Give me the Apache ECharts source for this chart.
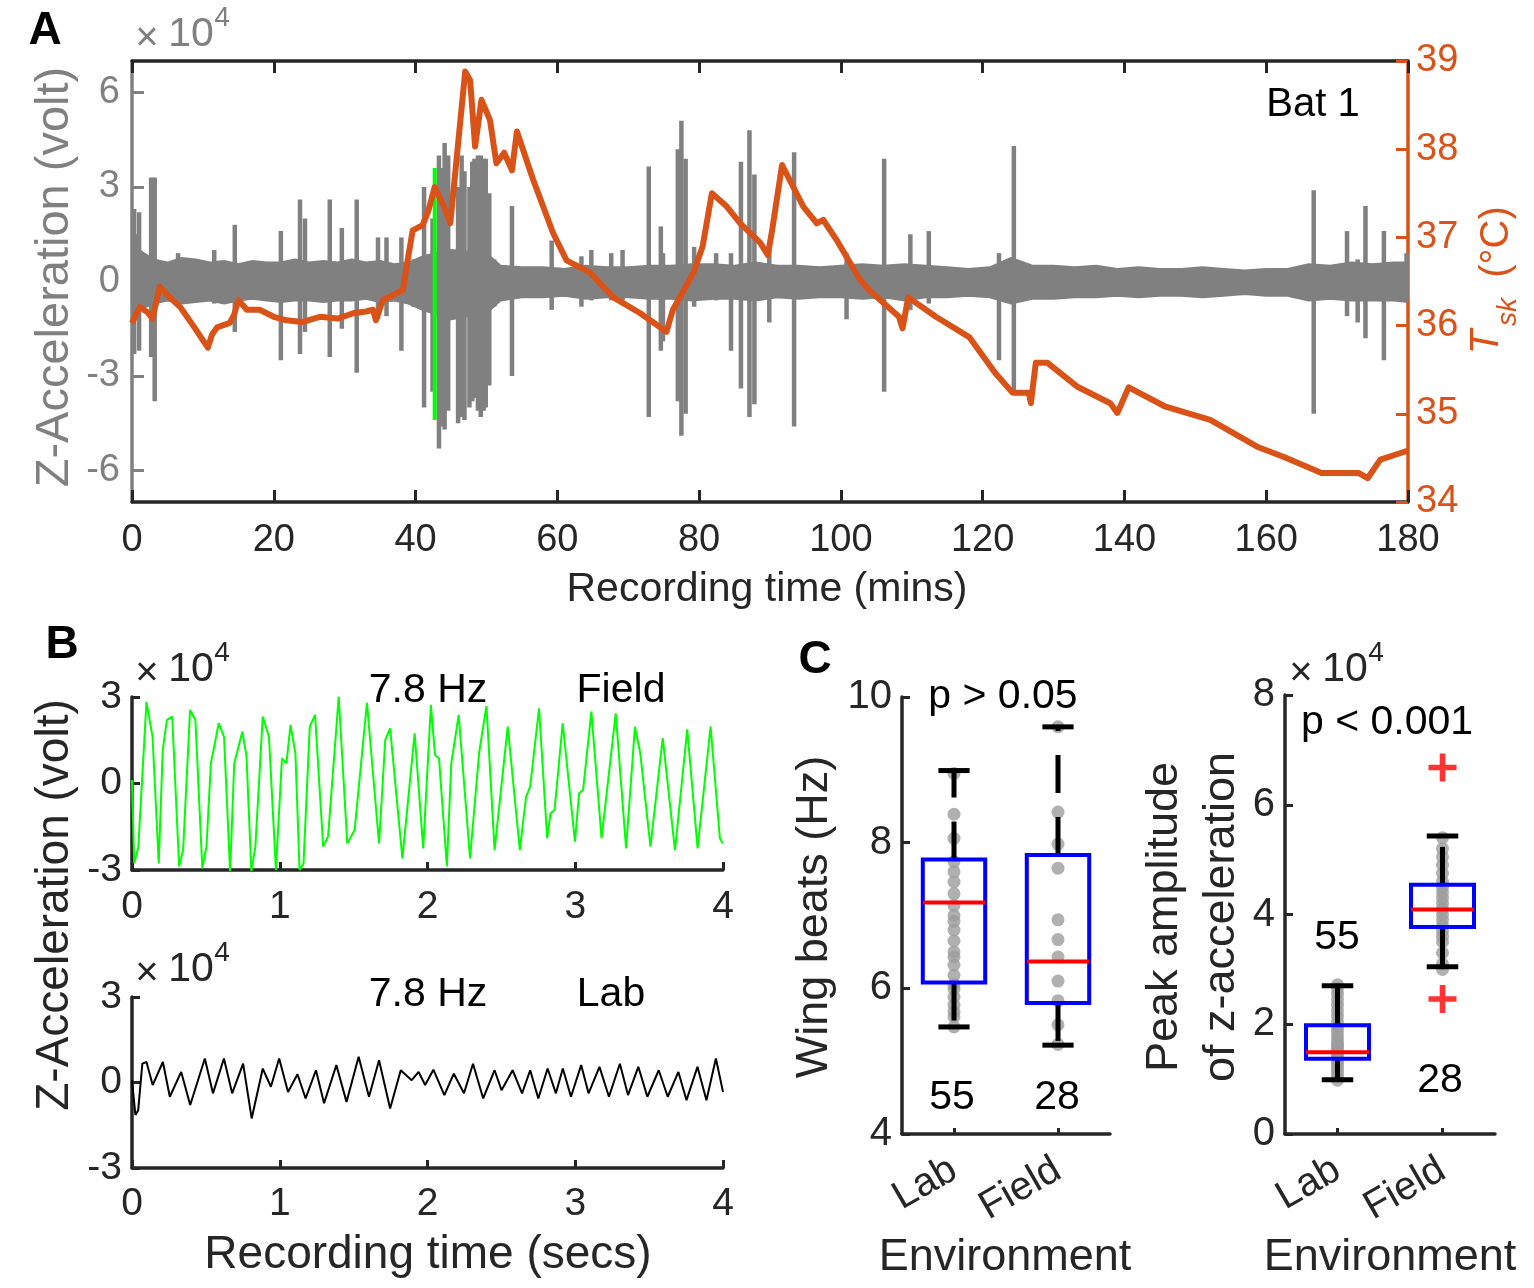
<!DOCTYPE html>
<html>
<head>
<meta charset="utf-8">
<title>Bat 1 z-acceleration and skin temperature</title>
<script src="https://cdn.jsdelivr.net/npm/echarts@6/dist/echarts.min.js"></script>
<style>
  html, body { margin: 0; padding: 0; background: #fff; }
  #chart { width: 1534px; height: 1288px; }
</style>
</head>
<body>
<div id="chart"></div>
<script>
// ---------- panel A: whole recording (mins) ----------
const minsTicks = [0, 20, 40, 60, 80, 100, 120, 140, 160, 180]
const accTicksA = [-6, -3, 0, 3, 6]
const tempTicks = [34, 35, 36, 37, 38, 39]

// skin temperature (deg C)
const tempTime = [0, 1.1, 2.2, 2.9, 3.9, 5.2, 6.8, 8.8, 10.7, 11.3, 12.0, 13.8, 14.4, 15.0, 16.2, 18.0, 20.0, 21.8, 24.0, 26.5,
  29.0, 31.2, 33.0, 34.0, 34.4, 35.4, 38.2, 38.9, 39.6, 41.0, 41.8, 42.7, 44.0, 44.9, 47.0, 47.7, 48.4, 49.3, 50.5, 51.4,
  52.5, 53.6, 54.3, 56.6, 59.4, 61.3, 64.6, 67.9, 71.7, 75.4, 76.3, 79.2, 80.5, 81.8, 83.9, 85.8, 88.6, 89.7, 90.3, 91.7,
  94.7, 96.6, 97.5, 99.4, 102.7, 104.0, 108.2, 108.7, 109.5, 113.4, 118.1, 121.8, 124.2, 126.5, 126.8, 127.5, 129.1, 133.3, 138.0, 139.0,
  140.6, 145.8, 152.1, 158.9, 162.5, 167.8, 173.0, 174.3, 176.1, 179.5, 180.0]
const tempValue = [36.03, 36.21, 36.15, 36.08, 36.44, 36.33, 36.21, 35.98, 35.75, 35.9, 35.98, 36.03, 36.12, 36.29, 36.18, 36.18, 36.1, 36.06, 36.04, 36.1,
  36.08, 36.14, 36.16, 36.18, 36.06, 36.29, 36.4, 36.75, 37.08, 37.14, 37.3, 37.57, 37.35, 37.16, 38.88, 38.78, 38.03, 38.56, 38.33, 37.84,
  37.96, 37.76, 38.2, 37.65, 37.05, 36.74, 36.6, 36.32, 36.14, 35.93, 36.18, 36.6, 36.9, 37.5, 37.35, 37.16, 36.94, 36.8, 37.08, 37.82,
  37.35, 37.16, 37.2, 36.97, 36.52, 36.4, 36.1, 35.97, 36.32, 36.1, 35.87, 35.46, 35.24, 35.24, 35.12, 35.58, 35.58, 35.31, 35.12, 35.01,
  35.3, 35.08, 34.93, 34.62, 34.51, 34.33, 34.33, 34.27, 34.48, 34.57, 34.58]

// envelope of the resting acceleration noise (x1e4)
const noiseTime = [0, 1, 3, 5, 7, 9, 11, 13, 15, 17, 19, 21, 23, 25, 27, 29, 31, 33, 35, 37, 39, 41, 45, 50, 52, 55, 58, 61, 64, 67,
  70, 73, 76, 79, 82, 85, 88, 91, 94, 97, 100, 103, 106, 109, 112, 115, 118, 121, 124, 127, 130, 133, 136, 139, 142, 145, 148, 151, 154, 157,
  160, 163, 166, 169, 172, 175, 178, 180]
const noiseUpper = [0.9, 1.0, 0.7, 0.6, 0.75, 0.7, 0.6, 0.65, 0.55, 0.65, 0.6, 0.6, 0.7, 0.6, 0.65, 0.6, 0.7, 0.6, 0.65, 0.55, 0.6, 0.8, 1.0, 0.9, 0.5, 0.45, 0.45, 0.4, 0.5, 0.45,
  0.45, 0.5, 0.5, 0.55, 0.55, 0.5, 0.6, 0.5, 0.5, 0.45, 0.5, 0.55, 0.5, 0.55, 0.5, 0.45, 0.4, 0.45, 0.75, 0.5, 0.5, 0.45, 0.5, 0.4, 0.45, 0.4, 0.4, 0.45, 0.4, 0.35,
  0.4, 0.4, 0.55, 0.5, 0.6, 0.55, 0.6, 0.6]
const noiseLower = [-1.0, -0.9, -0.7, -0.6, -0.7, -0.65, -0.6, -0.7, -0.6, -0.55, -0.6, -0.65, -0.6, -0.6, -0.65, -0.6, -0.6, -0.55, -0.65, -0.6, -0.7, -0.9, -1.2, -1.0, -0.6, -0.5, -0.5, -0.45, -0.55, -0.5,
  -0.5, -0.55, -0.55, -0.6, -0.55, -0.55, -0.6, -0.5, -0.55, -0.5, -0.5, -0.55, -0.5, -0.6, -0.5, -0.5, -0.45, -0.5, -0.7, -0.55, -0.55, -0.5, -0.5, -0.45, -0.5, -0.45, -0.45, -0.5, -0.45, -0.4,
  -0.45, -0.45, -0.6, -0.55, -0.6, -0.6, -0.6, -0.65]

// movement bursts: time, positive peak, negative peak (x1e4)
const spikeTime = [0.3, 0.7, 1.0, 2.7, 3.2, 6.5, 11.6, 14.5, 21.0, 23.7, 24.4, 27.9, 29.6, 31.7, 34.7, 35.9, 38.0, 39.7, 41.2, 42.4,
  43.3, 43.7, 44.1, 44.6, 46.0, 46.5, 46.9, 47.6, 48.0, 48.3, 48.8, 49.2, 49.6, 49.9, 50.4, 51.1, 53.6, 59.2, 63.4, 64.8,
  67.6, 69.2, 72.9, 74.6, 74.9, 77.0, 77.5, 78.1, 79.3, 82.4, 84.5, 85.9, 87.1, 87.8, 89.9, 93.4, 100.8, 106.1, 109.8, 112.4,
  122.3, 124.4, 166.7, 171.4, 172.9, 174.0, 176.6, 179.8]
const spikeTop = [2.3, 1.5, 2.2, 3.3, 3.3, 0.9, 1.0, 1.8, 1.6, 2.6, 2.0, 2.6, 1.7, 2.6, 1.4, 1.4, 1.4, 0.7, 3.0, 2.0,
  4.0, 3.6, 4.4, 4.0, 3.0, 4.0, 3.5, 3.0, 3.8, 3.9, 4.0, 4.0, 3.9, 3.9, 2.8, 0.7, 2.4, 1.3, 0.8, 1.0,
  0.9, 1.0, 3.65, 1.75, 0.9, 4.2, 5.1, 3.9, 1.1, 0.9, 0.9, 3.8, 4.8, 3.4, 1.0, 4.1, 0.9, 3.9, 1.5, 1.6,
  0.9, 4.3, 2.9, 1.6, 0.7, 2.4, 1.6, 0.9]
const spikeBottom = [-2.3, -1.2, -2.2, -2.4, -3.8, -0.7, -0.7, -1.6, -2.5, -2.3, -1.6, -2.4, -1.5, -2.9, -1.2, -1.1, -2.2, -0.8, -4.0, -3.5,
  -5.3, -4.6, -4.7, -4.1, -4.5, -4.3, -4.4, -4.0, -3.8, -3.7, -4.1, -4.3, -4.1, -4.0, -3.3, -0.8, -3.0, -0.9, -0.8, -0.6,
  -0.6, -0.6, -4.3, -2.2, -1.9, -3.8, -4.9, -4.2, -0.8, -0.6, -2.2, -3.4, -4.3, -3.9, -1.3, -4.6, -1.2, -3.5, -0.9, -0.7,
  -2.5, -3.5, -4.2, -1.1, -1.3, -1.8, -2.5, -0.6]

// the 4 s flight segment shown in panel B
const flightMarkTime = 42.7
const flightMarkTop = 3.6
const flightMarkBottom = -4.4

// ---------- panel B: 4 s excerpts (secs) ----------
const secsTicks = [0, 1, 2, 3, 4]
const accTicksB = [-3, 0, 3]
const fieldTime = [0, 0.015, 0.043, 0.098, 0.139, 0.181, 0.208, 0.236, 0.272, 0.319, 0.346, 0.393, 0.429, 0.476, 0.504, 0.534, 0.587, 0.623, 0.664, 0.692,
  0.747, 0.775, 0.808, 0.835, 0.885, 0.927, 0.974, 1.015, 1.045, 1.073, 1.106, 1.134, 1.161, 1.203, 1.239, 1.294, 1.327, 1.399, 1.457, 1.507,
  1.59, 1.672, 1.714, 1.747, 1.83, 1.913, 1.971, 2.023, 2.051, 2.078, 2.131, 2.161, 2.211, 2.288, 2.349, 2.399, 2.454, 2.543, 2.625, 2.667,
  2.695, 2.755, 2.81, 2.833, 2.86, 2.915, 2.998, 3.026, 3.053, 3.109, 3.178, 3.274, 3.344, 3.404, 3.44, 3.509, 3.592, 3.675, 3.758, 3.828,
  3.916, 3.979, 3.998]
const fieldValue = [0.12, -2.77, -2.19, 2.83, 1.62, -2.77, 1.16, 2.2, 2.32, -2.88, -2.31, 2.55, 2.2, -2.94, -2.19, 0.7, 2.09, 1.62, -3.06, 0.7,
  1.8, 0.93, -3.06, -2.19, 2.32, 1.62, -3.0, 0.87, 0.7, 2.03, 1.05, -3.0, -2.77, 1.97, 2.38, -2.19, -1.84, 3.01, -2.08, -1.61,
  2.8, -2.08, 1.51, 1.91, -2.6, 1.74, -2.25, 2.72, 0.99, 0.87, -2.88, 0.7, 2.38, -2.6, 1.05, 2.69, -2.31, 1.97, -2.31, -0.46,
  -0.11, 2.61, -1.9, -1.03, -0.92, 2.09, -2.02, -0.34, -0.23, 2.49, -1.9, 2.43, -2.25, 1.97, 1.05, -2.19, 1.57, -2.31, 1.88, -2.25,
  1.97, -1.9, -2.08]
const labTime = [0, 0.023, 0.042, 0.07, 0.098, 0.14, 0.209, 0.256, 0.333, 0.394, 0.493, 0.548, 0.622, 0.678, 0.752, 0.81, 0.885, 0.94, 0.996, 1.056,
  1.12, 1.175, 1.245, 1.3, 1.383, 1.452, 1.534, 1.604, 1.672, 1.747, 1.819, 1.893, 1.94, 1.984, 2.04, 2.114, 2.178, 2.247, 2.308, 2.377,
  2.454, 2.501, 2.576, 2.64, 2.695, 2.75, 2.813, 2.869, 2.916, 2.971, 3.04, 3.09, 3.164, 3.228, 3.302, 3.357, 3.427, 3.488, 3.565, 3.626,
  3.698, 3.753, 3.827, 3.888, 3.952, 4.0]
const labValue = [0.08, -1.14, -0.97, 0.66, 0.72, -0.09, 0.72, -0.5, 0.37, -0.79, 0.84, -0.38, 0.84, -0.38, 0.66, -1.26, 0.49, -0.15, 0.84, -0.33,
  0.29, -0.56, 0.43, -0.73, 0.61, -0.68, 0.9, -0.5, 0.78, -0.91, 0.43, 0.08, 0.37, -0.09, 0.45, -0.44, 0.31, -0.38, 0.66, -0.56,
  0.43, -0.27, 0.43, -0.38, 0.43, -0.56, 0.49, -0.38, 0.49, -0.5, 0.61, -0.38, 0.55, -0.5, 0.66, -0.44, 0.55, -0.5, 0.43, -0.5,
  0.37, -0.62, 0.55, -0.62, 0.84, -0.33]

// ---------- panel C: box plots ----------
const envCategories = ['Lab', 'Field']
const wingTicks = [4, 6, 8, 10]
const ampTicks = [0, 2, 4, 6, 8]
// lower whisker, q1, median, q3, upper whisker
const wingBox = [[5.47, 6.08, 7.18, 7.77, 8.99], [5.22, 5.80, 6.37, 7.83, 9.59]]
const wingLabDots = [8.95, 8.39, 8.06, 7.74, 7.6, 7.46, 7.3, 7.14, 7.0, 6.92, 6.8, 6.65, 6.5, 6.43, 6.32, 6.18, 6.05, 5.99, 5.88, 5.77, 5.68, 5.61, 5.47]
const wingFieldDots = [9.59, 8.42, 7.98, 7.65, 6.94, 6.67, 6.43, 6.1, 5.83, 5.5, 5.23]
const ampBox = [[0.99, 1.37, 1.49, 1.98, 2.70], [3.05, 3.77, 4.09, 4.54, 5.43]]
const ampLabDots = [0.98, 1.05, 1.12, 1.18, 1.25, 1.3, 1.35, 1.4, 1.45, 1.5, 1.55, 1.6, 1.65, 1.72, 1.8, 1.88, 1.95, 2.05, 2.15, 2.25, 2.35, 2.45, 2.55, 2.65, 2.72]
const ampFieldDots = [3.0, 3.1, 3.3, 3.5, 3.6, 3.7, 3.8, 3.9, 4.0, 4.1, 4.2, 4.3, 4.4, 4.5, 4.6, 4.75, 4.9, 5.05, 5.2, 5.4]
const ampOutliers = [6.68, 2.46]
const sampleCounts = ['55', '28']

// ---------- styling ----------
const FONT = '"Liberation Sans", Arial, Helvetica, sans-serif'
const INK = '#262626'
const GREY = '#808080'
const ORANGE = '#D95319'

const zip = (xs, ys) => xs.map((x, i) => [x, ys[i]])

function valueAxis(grid, min, max, ticks, opts) {
  const o = opts || {}
  const color = o.color || INK
  return {
    gridIndex: grid, type: 'value', min: min, max: max,
    position: o.position,
    axisLine: { show: true, onZero: false, lineStyle: { color: color, width: 3.5 } },
    axisTick: { show: true, inside: true, length: o.tickLen || 12, customValues: ticks, lineStyle: { color: color, width: 3 } },
    axisLabel: { show: o.labels !== false, customValues: ticks, color: color, fontFamily: FONT, fontSize: o.fontSize || 38, margin: o.margin || 10 },
    splitLine: { show: false }
  }
}

function catAxis(grid) {
  return {
    gridIndex: grid, type: 'category', data: envCategories, boundaryGap: true,
    axisLine: { show: true, lineStyle: { color: INK, width: 3.5 } },
    axisTick: { show: true, inside: true, alignWithLabel: true, length: 6, lineStyle: { color: INK, width: 3 } },
    axisLabel: { interval: 0, hideOverlap: false, rotate: 30, color: INK, fontFamily: FONT, fontSize: 40, margin: 33 },
    splitLine: { show: false }
  }
}

function renderSpike(params, api) {
  const a = api.coord([api.value(0), api.value(1)])
  const b = api.coord([api.value(0), api.value(2)])
  return {
    type: 'line',
    shape: { x1: a[0], y1: a[1], x2: b[0], y2: b[1] },
    style: { stroke: GREY, lineWidth: 4.5 }
  }
}

function renderBox(params, api) {
  const i = api.value(0)
  const lo = api.coord([i, api.value(1)])
  const q1 = api.coord([i, api.value(2)])
  const md = api.coord([i, api.value(3)])
  const q3 = api.coord([i, api.value(4)])
  const hi = api.coord([i, api.value(5)])
  const band = api.size([1, 0])[0]
  const half = band * 0.3
  const cap = band * 0.15
  const cx = md[0]
  const whisker = { stroke: '#000', lineWidth: 5, lineDash: [38, 24] }
  const solid = { stroke: '#000', lineWidth: 5 }
  return {
    type: 'group',
    children: [
      { type: 'line', shape: { x1: cx, y1: q3[1], x2: cx, y2: hi[1] }, style: whisker },
      { type: 'line', shape: { x1: cx, y1: q1[1], x2: cx, y2: lo[1] }, style: whisker },
      { type: 'line', shape: { x1: cx - cap, y1: hi[1], x2: cx + cap, y2: hi[1] }, style: solid },
      { type: 'line', shape: { x1: cx - cap, y1: lo[1], x2: cx + cap, y2: lo[1] }, style: solid },
      { type: 'rect', shape: { x: cx - half, y: q3[1], width: half * 2, height: q1[1] - q3[1] }, style: { fill: 'none', stroke: '#0000FF', lineWidth: 4 } },
      { type: 'line', shape: { x1: cx - half, y1: md[1], x2: cx + half, y2: md[1] }, style: { stroke: '#FF0000', lineWidth: 4 } }
    ]
  }
}

function txt(text, x, y, size, extra) {
  const e = extra || {}
  return {
    type: 'text', x: x, y: y, rotation: e.rotation || 0, z: 100,
    style: {
      text: text, fill: e.color || '#000', fontFamily: FONT, fontSize: size,
      fontWeight: e.bold ? 'bold' : 'normal', fontStyle: e.italic ? 'italic' : 'normal',
      textAlign: 'center', textVerticalAlign: 'middle'
    }
  }
}

function timesTen(x, y, color) {
  return [
    txt('\u00d7', x, y + 4, 40, { color: color }),
    txt('10', x + 44, y, 41, { color: color }),
    txt('4', x + 75, y - 17, 28, { color: color })
  ]
}

const boxData = rows => rows.map((r, i) => [i].concat(r))
const dotData = (idx, vals) => vals.map(v => [idx, v])

const chart = echarts.init(document.getElementById('chart'))

chart.setOption({
  backgroundColor: '#fff',
  animation: false,
  grid: [
    { left: 132, top: 61, width: 1276, height: 441 },
    { left: 132, top: 697, width: 591, height: 173 },
    { left: 132, top: 997, width: 591, height: 171 },
    { left: 902, top: 697, width: 208, height: 437 },
    { left: 1285, top: 695, width: 210, height: 439 }
  ],
  xAxis: [
    Object.assign(valueAxis(0, 0, 180, minsTicks, { margin: 20 }), { position: 'bottom' }),
    Object.assign(valueAxis(0, 0, 180, minsTicks, { labels: false }), { position: 'top' }),
    valueAxis(1, 0, 4, secsTicks, { tickLen: 8, fontSize: 39, margin: 18 }),
    valueAxis(2, 0, 4, secsTicks, { tickLen: 8, fontSize: 39, margin: 17 }),
    catAxis(3),
    catAxis(4)
  ],
  yAxis: [
    valueAxis(0, -7, 7, accTicksA, { color: GREY, margin: 12 }),
    valueAxis(0, 34, 39, tempTicks, { color: ORANGE, position: 'right', margin: 8 }),
    valueAxis(1, -3, 3, accTicksB, { tickLen: 8, fontSize: 39 }),
    valueAxis(2, -3, 3, accTicksB, { tickLen: 8, fontSize: 39 }),
    valueAxis(3, 4, 10, wingTicks, { tickLen: 8, fontSize: 40 }),
    valueAxis(4, 0, 8, ampTicks, { tickLen: 8, fontSize: 40 })
  ],
  series: [
    // panel A
    { type: 'line', xAxisIndex: 0, yAxisIndex: 0, data: zip(noiseTime, noiseUpper), symbol: 'none', silent: true, z: 2,
      lineStyle: { color: GREY, width: 2 }, areaStyle: { color: GREY, opacity: 1, origin: -0.2 } },
    { type: 'line', xAxisIndex: 0, yAxisIndex: 0, data: zip(noiseTime, noiseLower), symbol: 'none', silent: true, z: 2,
      lineStyle: { color: GREY, width: 2 }, areaStyle: { color: GREY, opacity: 1, origin: 0.2 } },
    { type: 'custom', xAxisIndex: 0, yAxisIndex: 0, renderItem: renderSpike, silent: true, z: 3,
      encode: { x: 0, y: [1, 2] },
      data: spikeTime.map((t, i) => [t, spikeTop[i], spikeBottom[i]]) },
    { type: 'line', xAxisIndex: 0, yAxisIndex: 0, symbol: 'none', silent: true, z: 4,
      data: [[flightMarkTime, flightMarkTop], [flightMarkTime, flightMarkBottom]],
      lineStyle: { color: '#00FF00', width: 4 } },
    { type: 'line', xAxisIndex: 0, yAxisIndex: 1, data: zip(tempTime, tempValue), symbol: 'none', silent: true, z: 5,
      lineStyle: { color: ORANGE, width: 6, join: 'round' } },
    // panel B
    { type: 'line', xAxisIndex: 2, yAxisIndex: 2, data: zip(fieldTime, fieldValue), symbol: 'none', silent: true,
      lineStyle: { color: '#00FF00', width: 2 } },
    { type: 'line', xAxisIndex: 3, yAxisIndex: 3, data: zip(labTime, labValue), symbol: 'none', silent: true,
      lineStyle: { color: '#000000', width: 2 } },
    // panel C, wing beats
    { type: 'scatter', xAxisIndex: 4, yAxisIndex: 4, symbolSize: 13, itemStyle: { color: '#9c9c9c' }, silent: true,
      data: dotData(0, wingLabDots).concat(dotData(1, wingFieldDots)) },
    { type: 'custom', xAxisIndex: 4, yAxisIndex: 4, renderItem: renderBox, silent: true, z: 5,
      encode: { x: 0, y: [1, 2, 3, 4, 5] }, data: boxData(wingBox) },
    // panel C, peak amplitude
    { type: 'scatter', xAxisIndex: 5, yAxisIndex: 5, symbolSize: 13, itemStyle: { color: '#9c9c9c' }, silent: true,
      data: dotData(0, ampLabDots).concat(dotData(1, ampFieldDots)) },
    { type: 'custom', xAxisIndex: 5, yAxisIndex: 5, renderItem: renderBox, silent: true, z: 5,
      encode: { x: 0, y: [1, 2, 3, 4, 5] }, data: boxData(ampBox) },
    { type: 'scatter', xAxisIndex: 5, yAxisIndex: 5, symbol: 'path://M4,0h2v4h4v2h-4v4h-2v-4h-4v-2h4z', symbolSize: 28,
      itemStyle: { color: '#FF0000' }, silent: true, z: 6, data: dotData(1, ampOutliers) }
  ],
  graphic: [
    // panel letters
    txt('A', 45, 31, 46, { bold: true }),
    txt('B', 62, 645, 46, { bold: true }),
    txt('C', 815, 660, 46, { bold: true }),
    // panel A
    ...timesTen(147, 35, GREY),
    txt('Bat 1', 1313, 105, 40),
    txt('Recording time (mins)', 767, 590, 41, { color: INK }),
    txt('Z-Acceleration (volt)', 55, 277, 47, { color: GREY, rotation: Math.PI / 2 }),
    {
      type: 'group', x: 1495, y: 280, rotation: Math.PI / 2, z: 100,
      children: [
        txt('T', -62, -8, 40, { color: ORANGE, italic: true }),
        txt('sk', -32, 13, 28, { color: ORANGE, italic: true }),
        txt('(\u00b0C)', 38, 2, 40, { color: ORANGE })
      ]
    },
    // panel B
    ...timesTen(147, 670, INK),
    txt('7.8 Hz', 428, 691, 41),
    txt('Field', 621, 691, 41),
    ...timesTen(147, 970, INK),
    txt('7.8 Hz', 428, 995, 41),
    txt('Lab', 611, 995, 41),
    txt('Z-Acceleration (volt)', 55, 905, 46, { color: INK, rotation: Math.PI / 2 }),
    txt('Recording time (secs)', 428, 1255, 46, { color: INK }),
    // panel C, wing beats
    txt('p > 0.05', 1003, 697, 41),
    txt(sampleCounts[0], 952, 1098, 41),
    txt(sampleCounts[1], 1057, 1098, 41),
    txt('Wing beats (Hz)', 815, 917, 45, { color: INK, rotation: Math.PI / 2 }),
    txt('Environment', 1005, 1258, 45, { color: INK }),
    // panel C, peak amplitude
    ...timesTen(1301, 670, INK),
    txt('p < 0.001', 1387, 723, 41),
    txt(sampleCounts[0], 1337, 938, 41),
    txt(sampleCounts[1], 1440, 1081, 41),
    txt('Peak amplitude', 1165, 917, 45, { color: INK, rotation: Math.PI / 2 }),
    txt('of z-acceleration', 1222, 917, 45, { color: INK, rotation: Math.PI / 2 }),
    txt('Environment', 1390, 1258, 45, { color: INK })
  ]
})
</script>
</body>
</html>
